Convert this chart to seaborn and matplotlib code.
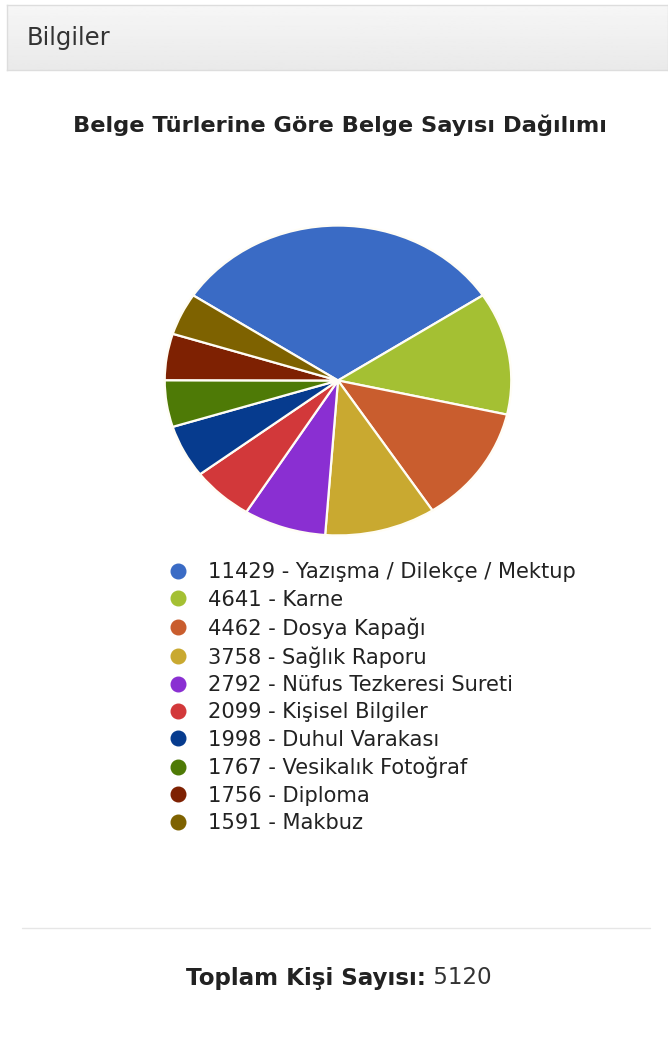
import matplotlib
matplotlib.use("Agg")
import matplotlib.pyplot as plt
import seaborn as sns
import numpy as np
from matplotlib.lines import Line2D

# data
belge_turleri = ["Yazışma / Dilekçe / Mektup", "Karne", "Dosya Kapağı", "Sağlık Raporu",
                 "Nüfus Tezkeresi Sureti", "Kişisel Bilgiler", "Duhul Varakası",
                 "Vesikalık Fotoğraf", "Diploma", "Makbuz"]
belge_sayilari = [11429, 4641, 4462, 3758, 2792, 2099, 1998, 1767, 1756, 1591]
renkler = ["#3a6bc5", "#a4c033", "#c95d2e", "#c9a930", "#8a2fd2",
           "#d2383a", "#063b8e", "#4e7a06", "#7e2102", "#7e6200"]
toplam_kisi = 5120

sns.set_theme(style="white")
plt.rcParams['font.family'] = ['DejaVu Sans']
palette = sns.color_palette(renkler)

W, H = 668, 1039
fig = plt.figure(figsize=(W / 100, H / 100), dpi=100)
fig.patch.set_facecolor("white")

# panel header
hdr = fig.add_axes([7 / W, 1 - 70 / H, (W - 7) / W, 65 / H])
grad = np.linspace(0.965, 0.915, 50).reshape(-1, 1)
hdr.imshow(grad, aspect="auto", cmap="gray", vmin=0, vmax=1, extent=[0, 1, 0, 1])
hdr.set_xticks([])
hdr.set_yticks([])
for s in hdr.spines.values():
    s.set_color("#dddddd")
    s.set_linewidth(1)
fig.text(27 / W, 1 - 38 / H, "Bilgiler", fontsize=17.5, color="#333333",
         ha="left", va="center")

# chart title
fig.text(340 / W, 1 - 125 / H, "Belge Türlerine Göre Belge Sayısı Dağılımı",
         fontsize=16.2, fontweight="bold", color="#222222", ha="center", va="center")

# pie
ax = fig.add_axes([163 / W, 1 - 537 / H, 350 / W, 313 / H])
start = 90 + 180 * belge_sayilari[0] / sum(belge_sayilari)
ax.pie(belge_sayilari, colors=palette, startangle=start, counterclock=False,
       radius=1, wedgeprops=dict(edgecolor="#fffdf5", linewidth=1.6))
ax.set_aspect("auto")
ax.set_xlim(-1.01, 1.01)
ax.set_ylim(-1.01, 1.01)
ax.axis("off")

# legend
handles = [Line2D([], [], marker="o", linestyle="", markersize=10.5,
                  markerfacecolor=c, markeredgecolor=c) for c in palette]
labels = [f"{n} - {t}" for n, t in zip(belge_sayilari, belge_turleri)]
fig.legend(handles, labels, loc="upper left", bbox_to_anchor=(167.1 / W, 1 - 562.5 / H),
           frameon=False, fontsize=15.1, handlelength=1.0, handletextpad=0.97,
           labelspacing=0.35, borderpad=0, borderaxespad=0, labelcolor="#222222")

# separator
fig.add_artist(Line2D([22 / W, 650 / W], [1 - 928 / H, 1 - 928 / H],
                      color="#e6e6e6", linewidth=1))

# footer total
t1 = fig.text(0, 1 - 978 / H, "Toplam Kişi Sayısı:", fontsize=16.6, fontweight="bold",
              color="#222222", ha="left", va="center")
t2 = fig.text(0, 1 - 978 / H, f" {toplam_kisi}", fontsize=16.6, color="#333333",
              ha="left", va="center")
r = fig.canvas.get_renderer()
w1 = t1.get_window_extent(r).width
w2 = t2.get_window_extent(r).width
x0 = 339 - (w1 + w2) / 2
t1.set_x(x0 / W)
t2.set_x((x0 + w1) / W)

fig.savefig("out.png", dpi=100)
